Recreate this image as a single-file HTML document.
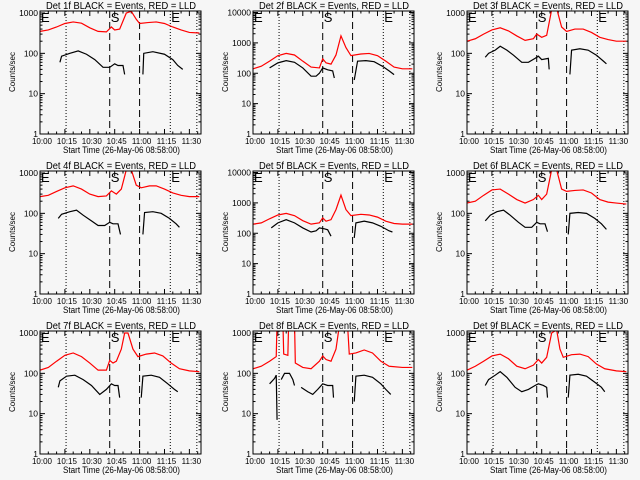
<!DOCTYPE html>
<html><head><meta charset="utf-8"><style>
html,body{margin:0;padding:0;background:#f6f6f6;}
svg{display:block;}
text{font-family:"Liberation Sans",sans-serif;fill:#000;}
</style></head><body>
<svg id="c" width="640" height="480"></svg>
<script>
const panelTitles=["Det 1f","Det 2f","Det 3f","Det 4f","Det 5f","Det 6f","Det 7f","Det 8f","Det 9f"];
const panelMaxExp=[3,4,3,3,4,3,3,3,3];
const xTickLabels=["10:00","10:15","10:30","10:45","11:00","11:15","11:30"];
const xTickMinutes=[0,15,30,45,60,75,90];
const dashedMinutes=[42,60];
const dottedMinutes=[15.7,78.5,94.5];
const red1=[[0,350],[5,380],[10,450],[15,550],[20,600],[25,560],[30,430],[35,350],[40,340],[43,450],[45,380],[48,400],[52,1000],[55,1100],[58,700],[60,550],[65,580],[70,600],[75,550],[80,450],[85,380],[90,330],[96,320]];
const black1=[[[12,60],[13,85],[18,100],[23,115],[28,95],[33,70],[38,45],[42,45],[45,55],[47,50],[50,50],[51,30]],[[62,30],[62.5,100],[68,110],[75,95],[80,70],[83,50],[86,40]]];
const red2=[[0,140],[5,170],[10,250],[15,380],[20,450],[25,400],[30,250],[35,160],[40,150],[42,300],[44,220],[47,200],[50,400],[53,1700],[56,700],[59,380],[65,430],[70,450],[75,380],[80,250],[85,160],[90,140],[96,140]];
const black2=[[[10,150],[15,220],[20,260],[25,230],[30,150],[35,80],[38,80],[40,100],[42,150],[45,130],[48,120],[49,70]],[[61,60],[63,250],[68,260],[73,240],[78,170],[82,120],[85,90]]];
const red3=[[0,200],[5,230],[10,300],[15,380],[20,430],[25,360],[30,270],[35,210],[40,230],[42,300],[45,250],[48,280],[51,1200],[54,1300],[57,450],[60,350],[65,400],[70,400],[75,330],[80,250],[85,220],[90,200],[96,200]];
const black3=[[[11,80],[13,100],[17,120],[20,150],[24,120],[28,90],[33,60],[37,60],[41,75],[43,85],[45,70],[49,75],[49.5,40]],[[62,30],[63,120],[68,130],[73,120],[78,90],[82,65],[84,55]]];
const red4=[[0,260],[5,280],[10,350],[15,430],[20,480],[25,400],[30,300],[35,260],[40,270],[43,360],[46,300],[49,400],[52,1200],[55,1200],[58,500],[61,430],[66,480],[70,480],[75,400],[80,320],[85,280],[90,260],[96,260]];
const black4=[[[11,75],[13,95],[18,110],[22,120],[26,90],[31,65],[35,50],[39,50],[42,60],[44,55],[47,55],[48.5,30]],[[62,30],[63,105],[68,110],[73,100],[78,75],[82,55],[84,45]]];
const red5=[[0,200],[5,220],[10,300],[15,400],[20,450],[25,380],[30,260],[35,200],[40,220],[42,320],[44,250],[47,280],[50,600],[53,1800],[56,600],[59,380],[65,420],[70,400],[75,340],[80,250],[85,210],[90,200],[96,200]];
const black5=[[[11,150],[15,220],[20,280],[25,220],[30,150],[35,110],[38,120],[40,150],[43,140],[45,130],[47,80]],[[61,70],[62,220],[67,250],[72,220],[77,170],[82,120],[84,110]]];
const red6=[[0,180],[5,200],[10,280],[15,380],[20,400],[25,300],[30,220],[35,180],[40,220],[43,280],[45,220],[48,300],[51,1200],[54,1200],[57,400],[60,350],[65,370],[70,380],[75,320],[80,220],[85,190],[90,180],[96,170]];
const black6=[[[11,65],[14,90],[18,110],[22,120],[26,90],[31,60],[35,45],[39,45],[42,60],[44,55],[47,55],[48.5,35]],[[61,30],[62,100],[67,105],[72,100],[77,75],[81,55],[84,40]]];
const red7=[[0,120],[5,140],[10,200],[15,280],[20,320],[25,260],[30,180],[35,120],[40,120],[42,210],[44,180],[46,200],[49,400],[51,1000],[53,1000],[56,400],[59,260],[64,300],[69,320],[74,270],[79,180],[84,130],[90,115],[96,110]];
const black7=[[[11,45],[12,65],[16,85],[21,90],[26,70],[31,50],[36,30],[40,40],[43,55],[45,50],[47,50],[48,25]],[[61,25],[62,85],[67,90],[72,80],[77,55],[81,40],[83,35]]];
const red8=[[0,130],[5,150],[10,200],[14,260],[14.5,2000],[18,2000],[18.5,300],[21,280],[21.5,2000],[25,2000],[25.5,180],[30,140],[35,130],[40,200],[42,270],[44,220],[47,200],[50,400],[52,1500],[57,1500],[58,300],[62,320],[67,380],[72,320],[77,200],[82,150],[90,140],[96,140]];
const black8=[[[10,55],[13,75],[14,90],[14.5,7]],[[17,70],[19,100],[22,100],[24,70],[25,50]],[[29,45],[33,35],[36,30],[39,40],[42,55],[45,50],[48,50],[48.5,25]],[[61,20],[62,85],[67,90],[72,80],[77,55],[80,40],[83,30]]];
const red9=[[0,120],[5,150],[10,200],[15,270],[20,300],[25,230],[30,150],[35,130],[40,160],[43,220],[45,180],[48,250],[51,1000],[54,1200],[56,400],[58,250],[63,290],[68,300],[73,260],[78,170],[83,130],[90,115],[96,110]];
const black9=[[[11,50],[13,70],[17,90],[20,110],[24,80],[29,45],[33,35],[37,40],[41,50],[43,55],[46,50],[48,45],[48.5,25]],[[61,25],[62,90],[67,95],[72,85],[77,60],[81,45],[83,35]]];
const reds=[red1,red2,red3,red4,red5,red6,red7,red8,red9];
const blacks=[black1,black2,black3,black4,black5,black6,black7,black8,black9];

const NS="http://www.w3.org/2000/svg";
const svg=document.getElementById('c');
function mk(tag,attrs,parent){const e=document.createElementNS(NS,tag);for(const k in attrs)e.setAttribute(k,attrs[k]);parent.appendChild(e);return e;}
const colX=[0,213,427],rowY=[0,160,320];
const L=40,R=201,T=11,B=134;
for(let p=0;p<9;p++){
  const ox=colX[p%3],oy=rowY[Math.floor(p/3)];
  const g=mk('g',{transform:`translate(${ox},${oy})`},svg);
  
  
  const maxExp=panelMaxExp[p];
  const topLog=maxExp+0.05;
  const xs=m=>L+m*(R-L)/97;
  const ys=v=>B-Math.log10(v)*(B-T)/topLog;
  const clipId='clip'+p;
  const cp=mk('clipPath',{id:clipId},g);mk('rect',{x:L,y:T,width:R-L,height:B-T},cp);
  const t=mk('text',{x:46,y:9,'font-size':10,textLength:150,lengthAdjust:'spacingAndGlyphs'},g);
  t.textContent=panelTitles[p]+" BLACK = Events, RED = LLD";
  
  
  const yl=mk('text',{x:15,y:72,'font-size':8,'text-anchor':'middle',transform:'rotate(-90 15 72)'},g);
  yl.textContent="Counts/sec";
  
  
  const xl=mk('text',{x:63,y:153,'font-size':9,textLength:117,lengthAdjust:'spacingAndGlyphs'},g);
  xl.textContent="Start Time (26-May-06 08:58:00)";
  
  
  for(let e=0;e<=maxExp;e++){
    const y=ys(Math.pow(10,e));
    mk('line',{x1:L,x2:L+5,y1:y,y2:y,stroke:'#000'},g);
    mk('line',{x1:R,x2:R-5,y1:y,y2:y,stroke:'#000'},g);
    const lb=mk('text',{x:L-2,y:y+3,'font-size':8.5,'text-anchor':'end'},g);
    lb.textContent=String(Math.pow(10,e));
    
    
    if(e<maxExp){for(let k=2;k<10;k++){const yy=ys(k*Math.pow(10,e));
      mk('line',{x1:L,x2:L+2.5,y1:yy,y2:yy,stroke:'#000'},g);
      mk('line',{x1:R,x2:R-2.5,y1:yy,y2:yy,stroke:'#000'},g);}}
  }
  xTickMinutes.forEach((m,i)=>{
    const x=xs(m);
    mk('line',{x1:x,x2:x,y1:B,y2:B-5,stroke:'#000'},g);
    mk('line',{x1:x,x2:x,y1:T,y2:T+5,stroke:'#000'},g);
    const lb=mk('text',{x:x+2,y:144,'font-size':8,'text-anchor':'middle'},g);
    lb.textContent=xTickLabels[i];
    
    
  });
  for(let m=5;m<97;m+=5){if(m%15){const x=xs(m);
    mk('line',{x1:x,x2:x,y1:B,y2:B-2.5,stroke:'#000'},g);
    mk('line',{x1:x,x2:x,y1:T,y2:T+2.5,stroke:'#000'},g);}}
  dottedMinutes.forEach(m=>{const x=xs(m);const l=mk('line',{x1:x,x2:x,y1:T,y2:B,stroke:'#000','stroke-dasharray':'1 2'},g);
    });
  dashedMinutes.forEach(m=>{const x=xs(m);const l=mk('line',{x1:x,x2:x,y1:T,y2:B,stroke:'#000','stroke-dasharray':'7 4'},g);
    });
  [["E",L+1],["S",xs(dashedMinutes[0])+1],["E",xs(dottedMinutes[1])+1]].forEach(a=>{
    const tt=mk('text',{x:a[1],y:T+11,'font-size':13},g);tt.textContent=a[0];
    });
  const cg=mk('g',{'clip-path':`url(#${clipId})`},g);
  const rp=mk('polyline',{points:reds[p].map(d=>xs(d[0])+','+ys(d[1])).join(' '),fill:'none',stroke:'#ff0000','stroke-width':1.2},cg);
  
  
  blacks[p].forEach(seg=>{
    const bp=mk('polyline',{points:seg.map(d=>xs(d[0])+','+ys(d[1])).join(' '),fill:'none',stroke:'#000','stroke-width':1.2},cg);
    
    
  });
  const box=mk('rect',{x:L,y:T,width:R-L,height:B-T,fill:'none',stroke:'#000'},g);
  
  
}
</script>
</body></html>
